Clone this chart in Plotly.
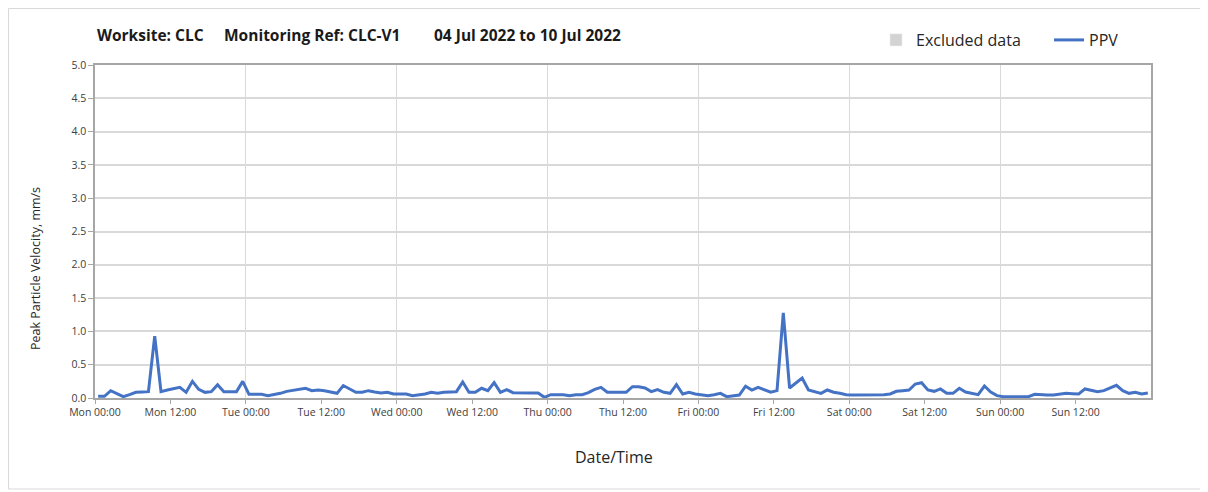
import pandas as pd
import plotly.graph_objects as go

# Hourly PPV readings (mm/s), Mon 04 Jul 2022 00:30 onward
ppv = [
    0.025, 0.025, 0.11, 0.065, 0.02, 0.05, 0.085, 0.09, 0.095, 0.93,
    0.095, 0.12, 0.14, 0.16, 0.085, 0.25, 0.13, 0.085, 0.095, 0.2,
    0.095, 0.095, 0.095, 0.25, 0.055, 0.055, 0.055, 0.035, 0.05, 0.07,
    0.1, 0.115, 0.12, 0.146, 0.11, 0.12, 0.11, 0.09, 0.07, 0.187,
    0.14, 0.086, 0.086, 0.11, 0.09, 0.076, 0.086, 0.06, 0.06, 0.06,
    0.035, 0.045, 0.06, 0.086, 0.07, 0.086, 0.09, 0.095, 0.24, 0.086,
    0.086, 0.146, 0.11, 0.23, 0.086, 0.126, 0.08, 0.076, 0.076, 0.076,
    0.076, 0.01, 0.05, 0.05, 0.05, 0.035, 0.05, 0.05, 0.08, 0.13,
    0.16, 0.086, 0.086, 0.086, 0.086, 0.17, 0.17, 0.15, 0.095, 0.126,
    0.086, 0.07, 0.2, 0.06, 0.086, 0.06, 0.045, 0.035, 0.05, 0.07,
    0.02, 0.03, 0.045, 0.177, 0.12, 0.16, 0.12, 0.086, 0.11, 1.28,
    0.15, 0.22, 0.3, 0.12, 0.09, 0.07, 0.12, 0.086, 0.07, 0.05,
    0.045, 0.045, 0.045, 0.045, 0.045, 0.05, 0.06, 0.1, 0.11, 0.12,
    0.21, 0.23, 0.12, 0.1, 0.136, 0.07, 0.07, 0.146, 0.09, 0.07,
    0.05, 0.18, 0.09, 0.035, 0.02, 0.02, 0.02, 0.02, 0.02, 0.055,
    0.045, 0.045, 0.045, 0.055, 0.07, 0.065, 0.06, 0.136, 0.11, 0.095,
    0.11, 0.15, 0.19, 0.11, 0.07, 0.086, 0.06, 0.076,
]
times = pd.date_range("2022-07-04 00:30", periods=len(ppv), freq="h")

tick_times = pd.date_range("2022-07-04 00:00", periods=14, freq="12h")
tick_labels = ["Mon 00:00", "Mon 12:00", "Tue 00:00", "Tue 12:00",
               "Wed 00:00", "Wed 12:00", "Thu 00:00", "Thu 12:00",
               "Fri 00:00", "Fri 12:00", "Sat 00:00", "Sat 12:00",
               "Sun 00:00", "Sun 12:00"]
day_lines = pd.date_range("2022-07-04 00:00", periods=8, freq="24h")

title_parts = ["Worksite: CLC", "Monitoring Ref: CLC-V1",
               "04 Jul 2022 to 10 Jul 2022"]
title_x_px = [87, 214, 424]   # left edges in figure pixels

FONT = "Open Sans, Calibri, sans-serif"
W, H = 1200, 484
ML, MR, MT, MB = 87, 57, 57, 94
PW, PH = W - ML - MR, H - MT - MB


def px_x(px):
    return (px - ML) / PW


def px_y(py):
    return (H - MB - py) / PH


fig = go.Figure()
fig.add_trace(go.Bar(x=[None], y=[None], name="Excluded data",
                     marker=dict(color="#d3d3d3"), showlegend=True,
                     legend="legend"))
fig.add_trace(go.Scatter(x=times, y=ppv, mode="lines", name="PPV",
                         line=dict(color="#4472C4", width=3),
                         legend="legend2"))

annotations = []
for txt, xp in zip(title_parts, title_x_px):
    annotations.append(dict(text=f"<b>{txt}</b>", xref="paper", yref="paper",
                            x=px_x(xp), y=px_y(27), xanchor="left",
                            yanchor="middle", showarrow=False,
                            font=dict(size=15.5, color="#1a1a1a", family=FONT)))
annotations.append(dict(text="Peak Particle Velocity, mm/s", textangle=-90,
                        xref="paper", yref="paper", x=px_x(27), y=px_y(261),
                        xanchor="center", yanchor="middle", showarrow=False,
                        font=dict(size=12.5, color="#262626", family=FONT)))
annotations.append(dict(text="Date/Time", xref="paper", yref="paper",
                        x=px_x(606), y=px_y(449), xanchor="center",
                        yanchor="middle", showarrow=False,
                        font=dict(size=16, color="#262626", family=FONT)))

legend_style = dict(orientation="h", xanchor="left", yanchor="middle",
                    font=dict(size=16, color="#262626"),
                    bgcolor="rgba(0,0,0,0)")

fig.update_layout(
    width=W, height=H,
    margin=dict(l=ML, r=MR, t=MT, b=MB),
    paper_bgcolor="white", plot_bgcolor="white",
    font=dict(family=FONT, color="#262626"),
    legend=dict(x=px_x(868), y=px_y(32), **legend_style),
    legend2=dict(x=px_x(1041), y=px_y(32), **legend_style),
    xaxis=dict(
        type="date",
        range=[day_lines[0], day_lines[-1]],
        tickvals=tick_times, ticktext=tick_labels,
        tickfont=dict(size=10.5, color="#404040"),
        ticks="outside", ticklen=4, tickcolor="#a6a6a6",
        showgrid=False,
        minor=dict(tickvals=day_lines, showgrid=True, gridcolor="#d9d9d9",
                   gridwidth=1.2, ticks=""),
        showline=True, linecolor="#a6a6a6", linewidth=1.5, mirror=True,
        zeroline=False,
    ),
    yaxis=dict(
        range=[0, 5], dtick=0.5, tickformat=".1f",
        tickfont=dict(size=10.5, color="#404040"),
        ticks="outside", ticklen=5, tickcolor="#a6a6a6",
        showgrid=True, gridcolor="#d9d9d9", gridwidth=1.5,
        showline=True, linecolor="#a6a6a6", linewidth=1.5, mirror=True,
        zeroline=False,
    ),
    annotations=annotations,
    bargap=0,
    shapes=[dict(type="rect", xref="paper", yref="paper",
                 x0=px_x(0.5), x1=px_x(1195), y0=px_y(481), y1=px_y(0.5),
                 line=dict(color="#d9d9d9", width=1), layer="below")],
)

fig.write_html("out.html")
